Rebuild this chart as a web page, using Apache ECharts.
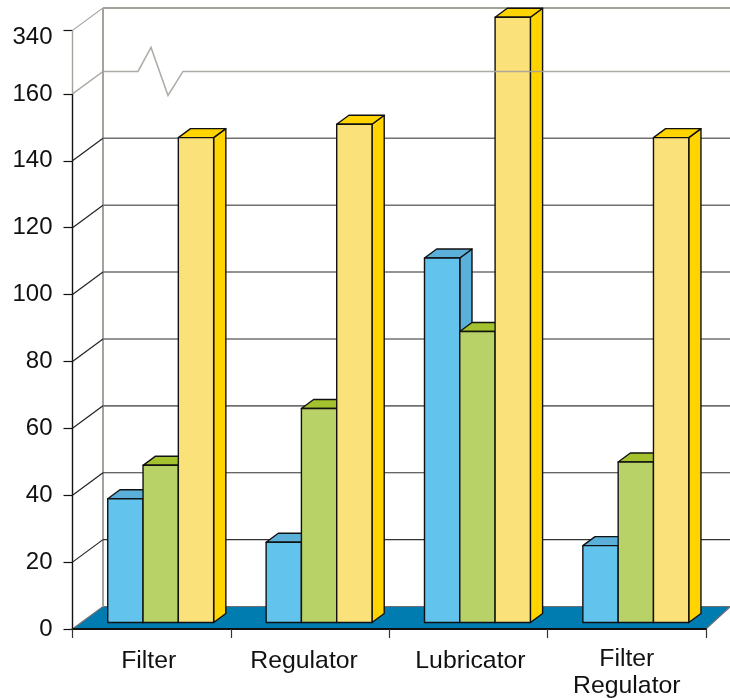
<!DOCTYPE html>
<html><head><meta charset="utf-8">
<style>html,body{margin:0;padding:0;background:#fff}#c{width:730px;height:698px}</style>
<script src="https://cdn.jsdelivr.net/npm/echarts@6/dist/echarts.min.js"></script>
</head><body><div id="c"></div>
<script>
const categories = ['Filter','Regulator','Lubricator','Filter\nRegulator'];
const blueValues = [37,24,109,23];
const greenValues = [47,64,87,48];
const yellowValues = [145,149,342,145];
const tickValues = [0,20,40,60,80,100,120,140,160,340];

const DX = 30.5, DY = -22.5;    // depth of the chart box
const ZX = 9, ZY = -6.5;        // bar row offset on the floor
const BX = 12.2, BY = -9;       // depth of each bar
const BAR_W = 35.3;
const STROKE = '#111';
const WALL = '#A5A19B';

function barSeries(values, idx, front, side, top){
  return {
    type:'custom', z:4, clip:false,
    data: values.map((v,i)=>[i,v]),
    encode:{x:0,y:1},
    renderItem(params, api){
      const c = api.coord([api.value(0), api.value(1)]);
      const b = api.coord([api.value(0), 0]);
      const xl = c[0] + ZX + (idx-1.5)*BAR_W, xr = xl + BAR_W;
      const yt = c[1] + ZY, yb = b[1] + ZY;
      const ls = {stroke:STROKE, lineWidth:1.4, lineJoin:'round'};
      return {type:'group', children:[
        {type:'polygon', shape:{points:[[xr,yt],[xr+BX,yt+BY],[xr+BX,yb+BY],[xr,yb]]}, style:{fill:side,...ls}},
        {type:'polygon', shape:{points:[[xl,yt],[xl+BX,yt+BY],[xr+BX,yt+BY],[xr,yt]]}, style:{fill:top,...ls}},
        {type:'rect', shape:{x:xl,y:yt,width:BAR_W,height:yb-yt}, style:{fill:front,...ls}}
      ]};
    }
  };
}
const labelFont = {fontFamily:'Liberation Sans', fontSize:24, color:'#111'};
const catFont = {fontFamily:'Liberation Sans', fontSize:24.8, color:'#111'};

const option = {
  animation:false,
  backgroundColor:'#fff',
  grid:{left:72.5, right:24, top:17, bottom:69, containLabel:false, outerBoundsMode:'none'},
  xAxis:{type:'category', data:categories, boundaryGap:true, z:6,
    axisLine:{lineStyle:{color:'#111',width:1.8}},
    axisTick:{show:true, alignWithLabel:false, length:9, lineStyle:{color:'#333',width:1.2}},
    axisLabel:{...catFont, margin:17, lineHeight:27, interval:0, verticalAlign:'top',
      formatter(v){
        return v.includes('\n') ? v : '{' + v + '|' + v + '}';
      },
      rich:{
        Filter:{...catFont, padding:[4,6,0,0]},
        Regulator:{...catFont, padding:[4,12,0,0]},
        Lubricator:{...catFont, padding:[4,0,0,4]}
      }},
    splitLine:{show:false}},
  yAxis:{type:'value', min:0, max:344, interval:20,
    breaks:[{start:160,end:321,gap:0}],
    breakArea:{show:false},
    axisLine:{show:false},
    axisTick:{show:true, length:9, customValues:tickValues, lineStyle:{color:'#111',width:1.2}},
    axisLabel:{...labelFont, margin:20, customValues:tickValues,
      formatter(v){ return v===340 ? '{low|340}' : String(v); },
      rich:{low:{...labelFont, padding:[13,0,0,0]}}},
    splitLine:{show:false}},
  series:[
    // floor and wall edge
    {type:'custom', z:1, clip:false, data:[[0,0]], encode:{x:0,y:1},
     renderItem(params, api){
       const cs = params.coordSys;
       const y0 = api.coord([0,0])[1];
       const yTop = api.coord([0,340])[1];
       const y160 = api.coord([0,160])[1];
       const x0 = cs.x, x1 = cs.x+cs.width;
       return {type:'group', children:[
         {type:'polygon', shape:{points:[[x0,y0],[x1,y0],[x1+DX*0.8,y0+DY],[x0+DX,y0+DY]]},
          style:{fill:'#017CB0', stroke:'#6f6f6f', lineWidth:1.2}},
         {type:'line', shape:{x1:x0+DX,y1:yTop+DY,x2:x0+DX,y2:y0+DY}, style:{stroke:WALL,lineWidth:2}},
         {type:'line', shape:{x1:x0,y1:y0,x2:x0,y2:y160}, style:{stroke:'#111',lineWidth:1.4}},
         {type:'line', shape:{x1:x0,y1:y160,x2:x0,y2:yTop}, style:{stroke:WALL,lineWidth:1.4}}
       ]};
     }},
    // wall grid lines
    {type:'custom', z:1, clip:false, data:tickValues.filter(v=>v>0&&v!==160).map(v=>[0,v]), encode:{x:0,y:1},
     renderItem(params, api){
       const cs = params.coordSys;
       const v = api.value(1);
       const y = api.coord([0,v])[1];
       const x0 = cs.x, x1 = cs.x+cs.width+DX;
       const col = v>=340 ? WALL : (v>=60 ? '#707070' : '#333');
       const w = v>=340 ? 2 : (v>=60 ? 1.6 : 1.2);
       return {type:'group', children:[
         {type:'line', shape:{x1:x0,y1:y,x2:x0+DX,y2:y+DY}, style:{stroke:v>=340?WALL:'#222',lineWidth:1.2}},
         {type:'line', shape:{x1:x0+DX,y1:y+DY,x2:x1,y2:y+DY}, style:{stroke:col,lineWidth:w}}
       ]};
     }},
    barSeries(blueValues,0,'#62C3ED','#5AB0D8','#5AB0D8'),
    barSeries(greenValues,1,'#B9D267','#A3C22E','#A3C22E'),
    barSeries(yellowValues,2,'#FBE17A','#FFD400','#FFD400'),
    // broken grid line at 160, lies over the tall bar
    {type:'custom', z:5, clip:false, data:[[0,160]], encode:{x:0,y:1},
     renderItem(params, api){
       const cs = params.coordSys;
       const y = api.coord([0,160])[1];
       const x0 = cs.x, w0 = x0+DX, yb = y+DY;
       return {type:'polyline', shape:{points:[[x0,y],[w0,yb],[w0+35,yb],[w0+48,yb-24],[w0+65,yb+24],[w0+80,yb],[cs.x+cs.width+DX,yb]]},
        style:{fill:'none',stroke:WALL,lineWidth:1.5,opacity:0.9}};
     }}
  ]
};
const chart = echarts.init(document.getElementById('c'));
chart.setOption(option);
</script></body></html>
